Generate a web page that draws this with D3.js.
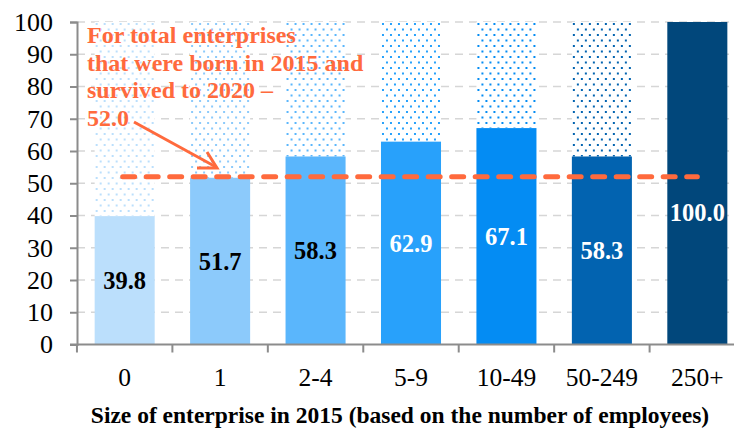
<!DOCTYPE html>
<html>
<head>
<meta charset="utf-8">
<script src="https://cdn.jsdelivr.net/npm/d3@7"></script>
<style>
  body { margin: 0; background: #fff; }
  svg text { font-family: 'Liberation Serif', 'DejaVu Serif', serif; }
</style>
</head>
<body>
<svg id="chart" width="734" height="429"></svg>
<script>
// data
var sizes = ["0", "1", "2-4", "5-9", "10-49", "50-249", "250+"];
var survival = [39.8, 51.7, 58.3, 62.9, 67.1, 58.3, 100.0];
var barColors = ["#BBDFFC", "#8CCAFB", "#5AB6FC", "#28A1FB", "#048CF3", "#0263B0", "#01477B"];
var labelColors = ["#000", "#000", "#000", "#fff", "#fff", "#fff", "#fff"];
var yTicks = [0, 10, 20, 30, 40, 50, 60, 70, 80, 90, 100];
var totalRate = 52.0;
var noteLines = ["For total enterprises", "that were born in 2015 and", "survived to 2020 \u2013", "52.0"];
var xTitle = "Size of enterprise in 2015 (based on the number of employees)";

var svg = d3.select("#chart");
var orange = "#FF6A3D";

var x = d3.scaleBand()
    .domain(sizes)
    .range([77, 745])
    .paddingInner(0.371)
    .paddingOuter(0.185);

var y = d3.scaleLinear()
    .domain([0, 100])
    .range([344.5, 22]);

// dotted patterns, one per bar colour
var defs = svg.append("defs");
barColors.forEach(function(c, i)
{
    var p = defs.append("pattern")
	.attr("id", "dots" + i)
	.attr("patternUnits", "userSpaceOnUse")
	.attr("width", 8)
	.attr("height", 11)
	.attr("x", x(sizes[i]));
    p.append("rect").attr("width", 8).attr("height", 11).attr("fill", "#fff");
    p.append("rect").attr("x", 1).attr("y", 1).attr("width", 2).attr("height", 2).attr("fill", c);
    p.append("rect").attr("x", 5).attr("y", 6.5).attr("width", 2).attr("height", 2).attr("fill", c);
});

// gridlines
svg.append("g")
    .selectAll("line")
    .data(yTicks.slice(1))
    .enter().append("line")
    .attr("x1", 77).attr("x2", 745)
    .attr("y1", function(d) { return y(d); })
    .attr("y2", function(d) { return y(d); })
    .attr("stroke", "#D6D6D6")
    .attr("stroke-width", 1.5)
    .attr("stroke-dasharray", "8,6");

var bars = svg.append("g").selectAll("g")
    .data(sizes)
    .enter().append("g");

// remaining share up to 100, dotted
bars.append("rect")
    .attr("x", function(d) { return x(d); })
    .attr("width", x.bandwidth())
    .attr("y", y(100))
    .attr("height", function(d, i) { return y(survival[i]) - y(100); })
    .attr("fill", function(d, i) { return "url(#dots" + i + ")"; });

bars.append("rect")
    .attr("x", function(d) { return x(d); })
    .attr("width", x.bandwidth())
    .attr("y", function(d, i) { return y(survival[i]); })
    .attr("height", function(d, i) { return y(0) - y(survival[i]); })
    .attr("fill", function(d, i) { return barColors[i]; });

bars.append("text")
    .attr("x", function(d) { return x(d) + x.bandwidth() / 2; })
    .attr("y", function(d, i) {
	var v = survival[i] >= 100 ? 41 : survival[i] / 2;
	return y(v);
    })
    .attr("dy", "0.35em")
    .attr("text-anchor", "middle")
    .attr("font-weight", "bold")
    .attr("font-size", 24.5)
    .attr("fill", function(d, i) { return labelColors[i]; })
    .text(function(d, i) { return survival[i].toFixed(1); });

// total line
var first = sizes[0], last = sizes[sizes.length - 1];
svg.append("line")
    .attr("x1", x(first) + x.bandwidth() / 2 - 2)
    .attr("x2", x(last) + x.bandwidth() / 2)
    .attr("y1", y(totalRate)).attr("y2", y(totalRate))
    .attr("stroke", orange)
    .attr("stroke-width", 5)
    .attr("stroke-linecap", "round")
    .attr("stroke-dasharray", "12,11.5");

// axes
var yAxis = svg.append("g")
    .attr("transform", "translate(77,0)")
    .call(d3.axisLeft(y).tickValues(yTicks).tickSize(7).tickPadding(17));
yAxis.attr("font-family", null);
yAxis.select(".domain").attr("stroke", "#8c8c8c").attr("stroke-width", 2);
yAxis.selectAll(".tick line").attr("stroke", "#8c8c8c").attr("stroke-width", 2);
yAxis.selectAll("text")
    .attr("font-size", 26)
    .attr("fill", "#000");

var xAxis = svg.append("g")
    .attr("transform", "translate(0," + y(0) + ")");
xAxis.append("line")
    .attr("x1", 70).attr("x2", 745)
    .attr("stroke", "#8c8c8c").attr("stroke-width", 2);
xAxis.selectAll(".sep")
    .data(sizes)
    .enter().append("line")
    .attr("class", "sep")
    .attr("x1", function(d) { return x(d) - x.step() * x.paddingInner() / 2; })
    .attr("x2", function(d) { return x(d) - x.step() * x.paddingInner() / 2; })
    .attr("y1", 0).attr("y2", 8)
    .attr("stroke", "#8c8c8c").attr("stroke-width", 2);
xAxis.selectAll(".lab")
    .data(sizes)
    .enter().append("text")
    .attr("class", "lab")
    .attr("x", function(d) { return x(d) + x.bandwidth() / 2; })
    .attr("y", 41)
    .attr("text-anchor", "middle")
    .attr("font-size", 25.5)
    .text(function(d) { return d; });

svg.append("text")
    .attr("x", 400)
    .attr("y", 423)
    .attr("text-anchor", "middle")
    .attr("font-weight", "bold")
    .attr("font-size", 23.5)
    .text(xTitle);

// annotation
svg.append("g").selectAll("text")
    .data(noteLines)
    .enter().append("text")
    .attr("x", 87)
    .attr("y", function(d, i) { return 43 + i * 27.7; })
    .attr("font-weight", "bold")
    .attr("font-size", 24)
    .attr("fill", orange)
    .text(function(d) { return d; });

svg.append("line")
    .attr("x1", 134).attr("y1", 122)
    .attr("x2", 216).attr("y2", 167)
    .attr("stroke", orange).attr("stroke-width", 3);
svg.append("path")
    .attr("d", "M197,168 L217,168 L207,152")
    .attr("fill", "none")
    .attr("stroke", orange).attr("stroke-width", 3)
    .attr("stroke-linejoin", "miter");
</script>
</body>
</html>
